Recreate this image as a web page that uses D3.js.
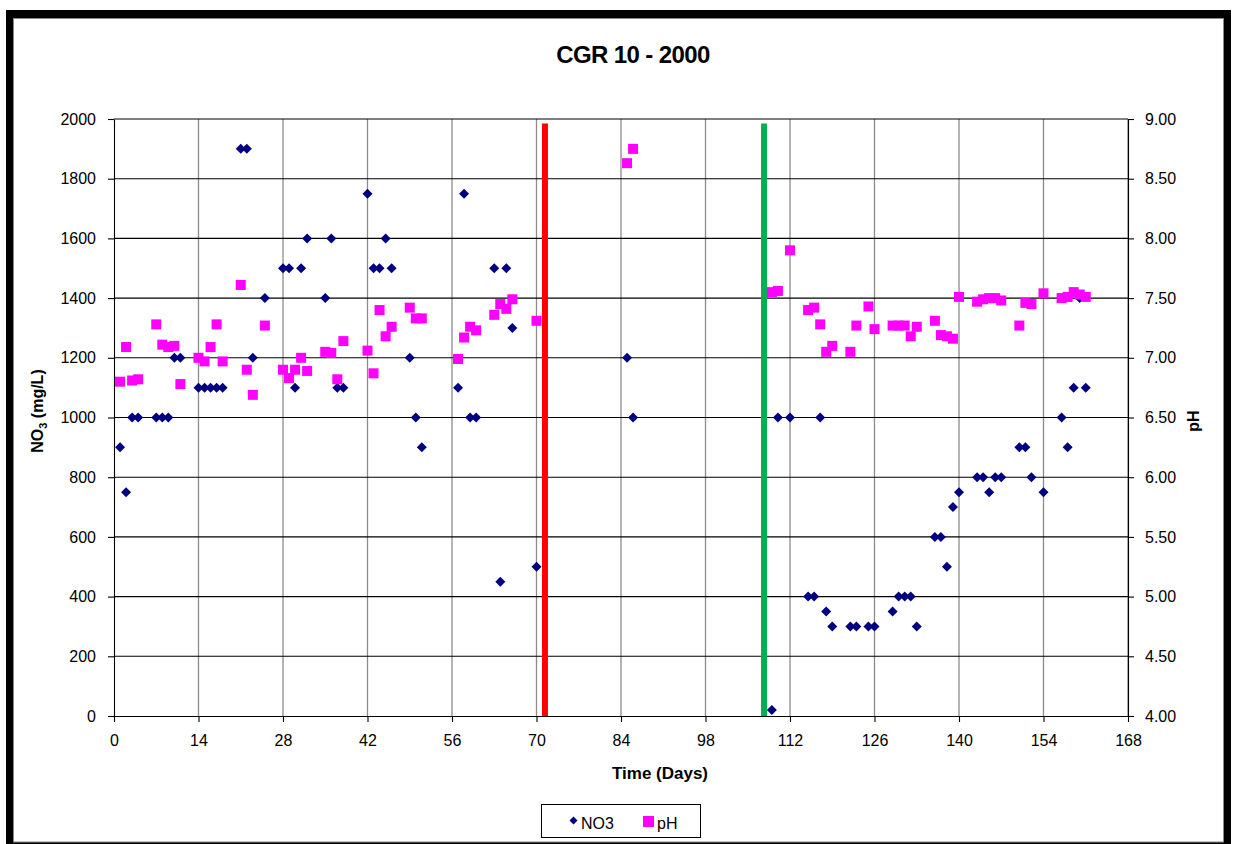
<!DOCTYPE html>
<html>
<head>
<meta charset="utf-8">
<script src="https://cdn.jsdelivr.net/npm/d3@7"></script>
<style>
  html, body { margin: 0; padding: 0; background: #fff; }
  svg { display: block; font-family: "Liberation Sans", Arial, sans-serif; }
</style>
</head>
<body>
<svg id="chart" width="1237" height="844"></svg>
<script>
// Sampling days and measurements
const no3Days = [1, 2, 3, 4, 7, 8, 9, 10, 11, 14, 15, 16, 17, 18, 21, 22, 23, 25, 28, 29, 30, 31, 32, 35, 36, 37, 38,
  42, 43, 44, 45, 46, 49, 50, 51, 57, 58, 59, 60, 63, 64, 65, 66, 70, 85, 86,
  109, 110, 112, 115, 116, 117, 118, 119, 122, 123, 125, 126, 129, 130, 131, 132, 133, 136, 137, 138, 139, 140,
  143, 144, 145, 146, 147, 150, 151, 152, 154, 157, 158, 159, 160, 161];
const no3Values = [900, 750, 1000, 1000, 1000, 1000, 1000, 1200, 1200, 1100, 1100, 1100, 1100, 1100, 1900, 1900, 1200, 1400, 1500, 1500, 1100, 1500, 1600, 1400, 1600, 1100, 1100,
  1750, 1500, 1500, 1600, 1500, 1200, 1000, 900, 1100, 1750, 1000, 1000, 1500, 450, 1500, 1300, 500, 1200, 1000,
  20, 1000, 1000, 400, 400, 1000, 350, 300, 300, 300, 300, 300, 350, 400, 400, 400, 300, 600, 600, 500, 700, 750,
  800, 800, 750, 800, 800, 900, 900, 800, 750, 1000, 900, 1100, 1400, 1100];

const phDays = [1, 2, 3, 4, 7, 8, 9, 10, 11, 14, 15, 16, 17, 18, 21, 22, 23, 25, 28, 29, 30, 31, 32, 35, 36, 37, 38,
  42, 43, 44, 45, 46, 49, 50, 51, 57, 58, 59, 60, 63, 64, 65, 66, 70, 85, 86,
  109, 110, 112, 115, 116, 117, 118, 119, 122, 123, 125, 126, 129, 130, 131, 132, 133, 136, 137, 138, 139, 140,
  143, 144, 145, 146, 147, 150, 151, 152, 154, 157, 158, 159, 160, 161];
const phValues = [6.80, 7.09, 6.81, 6.82, 7.28, 7.11, 7.09, 7.10, 6.78, 7.00, 6.97, 7.09, 7.28, 6.97, 7.61, 6.90, 6.69, 7.27, 6.90, 6.83, 6.90, 7.00, 6.89, 7.05, 7.04, 6.82, 7.14,
  7.06, 6.87, 7.40, 7.18, 7.26, 7.42, 7.33, 7.33, 6.99, 7.17, 7.26, 7.23, 7.36, 7.45, 7.41, 7.49, 7.31, 8.63, 8.75,
  7.55, 7.56, 7.90, 7.40, 7.42, 7.28, 7.05, 7.10, 7.05, 7.27, 7.43, 7.24, 7.27, 7.27, 7.27, 7.18, 7.26, 7.31, 7.19, 7.18, 7.16, 7.51,
  7.47, 7.49, 7.50, 7.50, 7.48, 7.27, 7.46, 7.45, 7.54, 7.50, 7.51, 7.55, 7.53, 7.51];

// Event markers (vertical bars), drawn on the NO3 axis
const eventDays = [71.4, 107.7];
const eventTop = 1985;
const eventColors = ["#ff0000", "#00b050"];

// Axis ticks
const xTicks = d3.range(0, 169, 14);
const leftTicks = d3.range(0, 2001, 200);
const rightTicks = d3.range(4, 9.001, 0.5);

const svg = d3.select("#chart");

// Outer frame with heavy border
svg.append("rect").attr("x", 6).attr("y", 10).attr("width", 1225).attr("height", 900).attr("fill", "#000");
svg.append("rect").attr("x", 13.5).attr("y", 18.5).attr("width", 1210).attr("height", 823.5)
  .attr("fill", "#fff").attr("stroke", "#8a8a8a").attr("stroke-width", 1);

const x = d3.scaleLinear().domain([0, 168]).range([114, 1128]);
const yL = d3.scaleLinear().domain([0, 2000]).range([716, 119]);
const yR = d3.scaleLinear().domain([4, 9]).range([716, 119]);

// Title
svg.append("text").attr("x", 633).attr("y", 63).attr("text-anchor", "middle")
  .attr("font-size", 24).attr("font-weight", "bold").attr("letter-spacing", -0.6)
  .text("CGR 10 - 2000");

// Gridlines
const grid = svg.append("g");
grid.selectAll("line.v").data(xTicks.slice(1)).join("line")
  .attr("x1", d => x(d)).attr("x2", d => x(d)).attr("y1", yL(2000)).attr("y2", yL(0))
  .attr("stroke", "#8c8c8c").attr("stroke-width", 1.3);
grid.selectAll("line.h").data(leftTicks.slice(1)).join("line")
  .attr("x1", x(0)).attr("x2", x(168)).attr("y1", d => yL(d)).attr("y2", d => yL(d))
  .attr("stroke", "#000").attr("stroke-width", 1.1);

// Axes
const axisStyle = g => {
  g.select(".domain").attr("stroke", "#000").attr("stroke-width", 1.1);
  g.selectAll(".tick line").attr("stroke", "#000").attr("stroke-width", 1.1);
  g.selectAll(".tick text").attr("fill", "#000").attr("font-size", 16)
    .attr("font-family", "'Liberation Sans', Arial, sans-serif");
};

svg.append("g").attr("transform", `translate(0,${yL(0)})`)
  .call(d3.axisBottom(x).tickValues(xTicks).tickFormat(d3.format("d")).tickSize(6).tickPadding(13).tickSizeOuter(0))
  .call(axisStyle);

svg.append("g").attr("transform", `translate(${x(0)},0)`)
  .call(d3.axisLeft(yL).tickValues(leftTicks).tickFormat(d3.format("d")).tickSize(6).tickPadding(12).tickSizeOuter(0))
  .call(axisStyle);

svg.append("g").attr("transform", `translate(${x(168)},0)`)
  .call(d3.axisRight(yR).tickValues(rightTicks).tickFormat(d3.format(".2f")).tickSize(6).tickPadding(11).tickSizeOuter(0))
  .call(axisStyle);

// Axis titles
svg.append("text").attr("x", 660).attr("y", 779).attr("text-anchor", "middle")
  .attr("font-size", 17).attr("font-weight", "bold").text("Time (Days)");

const leftTitle = svg.append("text").attr("transform", "translate(43,411) rotate(-90)")
  .attr("text-anchor", "middle").attr("font-size", 16).attr("font-weight", "bold");
leftTitle.append("tspan").text("NO");
leftTitle.append("tspan").attr("font-size", 11).attr("dy", 4).text("3");
leftTitle.append("tspan").attr("dy", -4).text(" (mg/L)");

svg.append("text").attr("transform", "translate(1199,421) rotate(-90)")
  .attr("text-anchor", "middle").attr("font-size", 16).attr("font-weight", "bold").text("pH");

// Event bars
svg.append("g").selectAll("line").data(eventDays).join("line")
  .attr("x1", d => x(d)).attr("x2", d => x(d))
  .attr("y1", yL(0)).attr("y2", yL(eventTop))
  .attr("stroke", (d, i) => eventColors[i]).attr("stroke-width", 6);

// Markers
const diamond = s => `M0,${-s}L${s},0L0,${s}L${-s},0Z`;

svg.append("g").selectAll("path").data(no3Days.map((d, i) => [d, no3Values[i]])).join("path")
  .attr("d", diamond(5))
  .attr("transform", d => `translate(${x(d[0])},${yL(d[1])})`)
  .attr("fill", "#000080");

svg.append("g").selectAll("rect").data(phDays.map((d, i) => [d, phValues[i]])).join("rect")
  .attr("x", d => x(d[0]) - 5).attr("y", d => yR(d[1]) - 5)
  .attr("width", 10).attr("height", 10)
  .attr("fill", "#ff00ff");

// Legend
const lg = svg.append("g");
lg.append("rect").attr("x", 541.5).attr("y", 804.5).attr("width", 159).attr("height", 33)
  .attr("fill", "#fff").attr("stroke", "#000").attr("stroke-width", 1);
lg.append("path").attr("d", diamond(4)).attr("transform", "translate(573.5,820.5)").attr("fill", "#000080");
lg.append("text").attr("x", 581).attr("y", 829).attr("font-size", 16).text("NO3");
lg.append("rect").attr("x", 643).attr("y", 816).attr("width", 11).attr("height", 11).attr("fill", "#ff00ff");
lg.append("text").attr("x", 657).attr("y", 829).attr("font-size", 16).text("pH");
</script>
</body>
</html>
